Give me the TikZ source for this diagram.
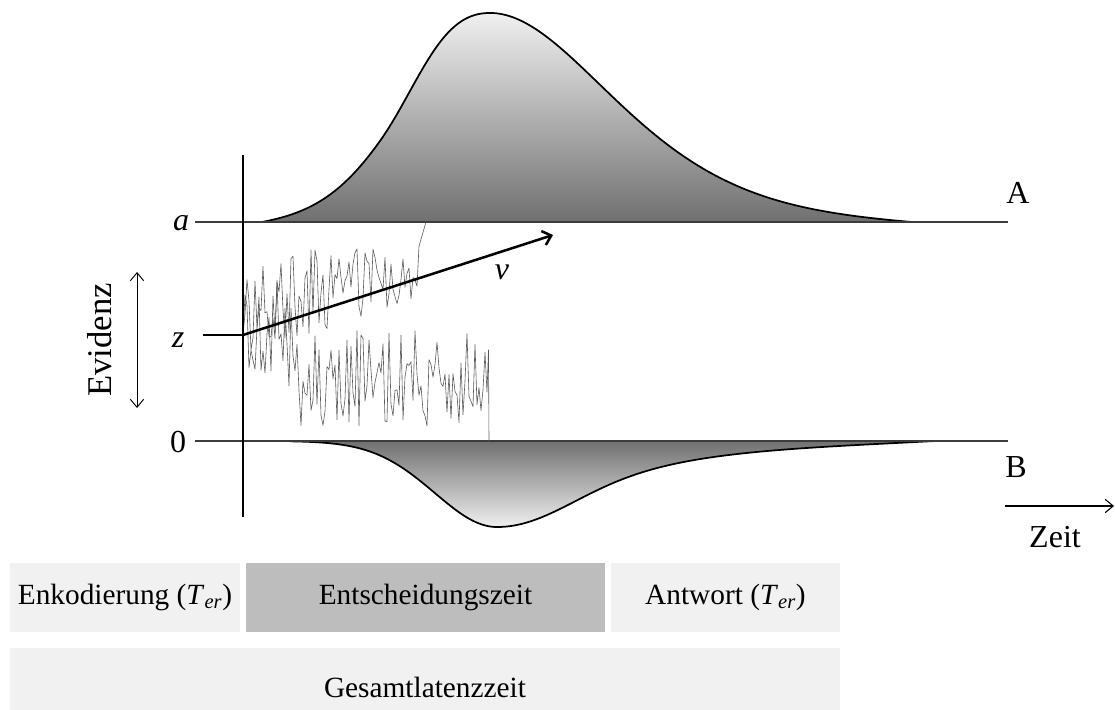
\documentclass[tikz,border=0pt]{standalone}
\usepackage{fontspec}
\setmainfont{Liberation Serif}
\usetikzlibrary{arrows.meta}
\definecolor{lightbox}{HTML}{F1F1F1}
\definecolor{midbox}{HTML}{BDBDBD}
\definecolor{noisecol}{HTML}{5A5A5A}
\definecolor{levelcol}{HTML}{3C3C3C}
\definecolor{distlight}{HTML}{F0F0F0}
\definecolor{distdark}{HTML}{707070}
\begin{document}
\begin{tikzpicture}[x=0.75pt,y=-0.75pt,
  lbl/.style={inner sep=0pt,font=\fontsize{24}{28}\selectfont},
  boxlbl/.style={inner sep=0pt,font=\fontsize{22}{26}\selectfont},
  tbox/.style={inner sep=0pt,outer sep=0pt,minimum height=51.75pt,font=\fontsize{22}{26}\selectfont},
  level/.style={draw=levelcol,line width=1.5pt},
  curve/.style={draw=black,line width=1.3pt,line join=round},
  noise/.style={draw=noisecol,line width=0.45pt,line join=round},
  drift/.style={draw=black,line width=1.9pt,-{Straight Barb[length=6pt,width=11pt]}},
  axisline/.style={draw=black,line width=1.5pt}]
\useasboundingbox (0,0) rectangle (1115,710);

% upper distribution (skewed bell)
\def\upS{ifthenelse(\x<490, 0.8+0.31*(max(0,(\x-380)/100))^2, 1.1+0.0009*(\x-490))}
\def\upC{0.0172*ifthenelse(\x<490,((490-\x)/228)^4,((\x-490)/422)^4)}
\def\upf{222-209*(exp(-0.5*((\x-490)/100/(\upS))^2)-\upC)}
\shade[top color=distlight,bottom color=distdark]
  (262,222) -- plot[domain=262:912,samples=200] (\x,{\upf}) -- (912,222) -- cycle;
\draw[curve] plot[domain=262:912,samples=200] (\x,{\upf});

% lower distribution
\def\loZ{((\x-600)/30)}
\def\loS{ifthenelse(\x<497, 0.62, 0.9+0.075*(max(\loZ,0)+ln(1+exp(-abs(\loZ)))))}
\def\loC{ifthenelse(\x<497,0,0.042*((\x-497)/439)^4)}
\def\lof{441+86*(exp(-0.5*((\x-497)/100/(\loS))^2)-\loC)}
\shade[top color=distdark,bottom color=distlight]
  (290,441) -- plot[domain=290:936,samples=200] (\x,{\lof}) -- (936,441) -- cycle;
\draw[curve] plot[domain=290:936,samples=200] (\x,{\lof});

% levels
\coordinate (a0) at (195,222); \coordinate (a1) at (1008,222);
\coordinate (z0) at (203,335); \coordinate (zstart) at (243,335);
\coordinate (n0) at (195,441); \coordinate (n1) at (1008,441);
\coordinate (ytop) at (243,155); \coordinate (ybot) at (243,517);
\draw[level] (a0) -- (a1);
\draw[level] (n0) -- (n1);
\draw[draw=black,line width=1.2pt] (z0) -- (zstart);

% noise paths
\pgfmathsetseed{7}
\coordinate (uend) at (426,222);
\coordinate (lend) at (489,441);
\draw[noise] (zstart) foreach \x in {245,247,...,419} { -- (\x,{303-0.17*(\x-243)+(50-0.12*(\x-243))*rand}) } -- (uend);
\draw[noise] (zstart) foreach \x in {245,247,...,487} { -- (\x,{328+min(max((\x-280)*2.5,0),50)+48*rand}) } -- (488.5,350) -- (lend);

% axis
\draw[axisline] (ytop) -- (ybot);

% drift
\coordinate (vtip) at (553,235);
\draw[drift] (zstart) -- (vtip);
\node[lbl] (vlab) at (502,272) {\textit{v}};

% labels
\node[lbl] (alab) at (181,223) {\textit{a}};
\node[lbl] (zlab) at (178,340) {\textit{z}};
\node[lbl] (nlab) at (178,442) {0};
\node[lbl] (Alab) at (1018,193) {A};
\node[lbl] (Blab) at (1016,467) {B};

% Evidenz
\node[inner sep=0pt,font=\fontsize{26}{30}\selectfont,rotate=90] (evid) at (100,340) {Evidenz};
\coordinate (evtop) at (137,272); \coordinate (evbot) at (137,408);
\draw[line width=0.7pt,{Straight Barb[length=6pt,width=10pt]}-{Straight Barb[length=6pt,width=10pt]}] (evtop) -- (evbot);

% Zeit
\coordinate (zt0) at (1005,506); \coordinate (zt1) at (1114,506);
\draw[line width=0.8pt,-{Straight Barb[length=6pt,width=10pt]}] (zt0) -- (zt1);
\node[lbl] (zeit) at (1055,537) {Zeit};

% boxes
\node[tbox,fill=lightbox,minimum width=172.5pt] (enk) at (125,597.5) {Enkodierung (\textit{T}\textsubscript{\textit{er}})};
\node[tbox,fill=midbox,minimum width=269.25pt] (ent) at (425.5,597.5) {Entscheidungszeit};
\node[tbox,fill=lightbox,minimum width=171.75pt] (ant) at (725.5,597.5) {Antwort (\textit{T}\textsubscript{\textit{er}})};
\node[inner sep=0pt,outer sep=0pt,fill=lightbox,minimum width=622.5pt,minimum height=46.5pt] (ges) at (425,679) {};
\node[boxlbl,anchor=base] (geslab) at (425,697) {Gesamtlatenzzeit};
\end{tikzpicture}
\end{document}
